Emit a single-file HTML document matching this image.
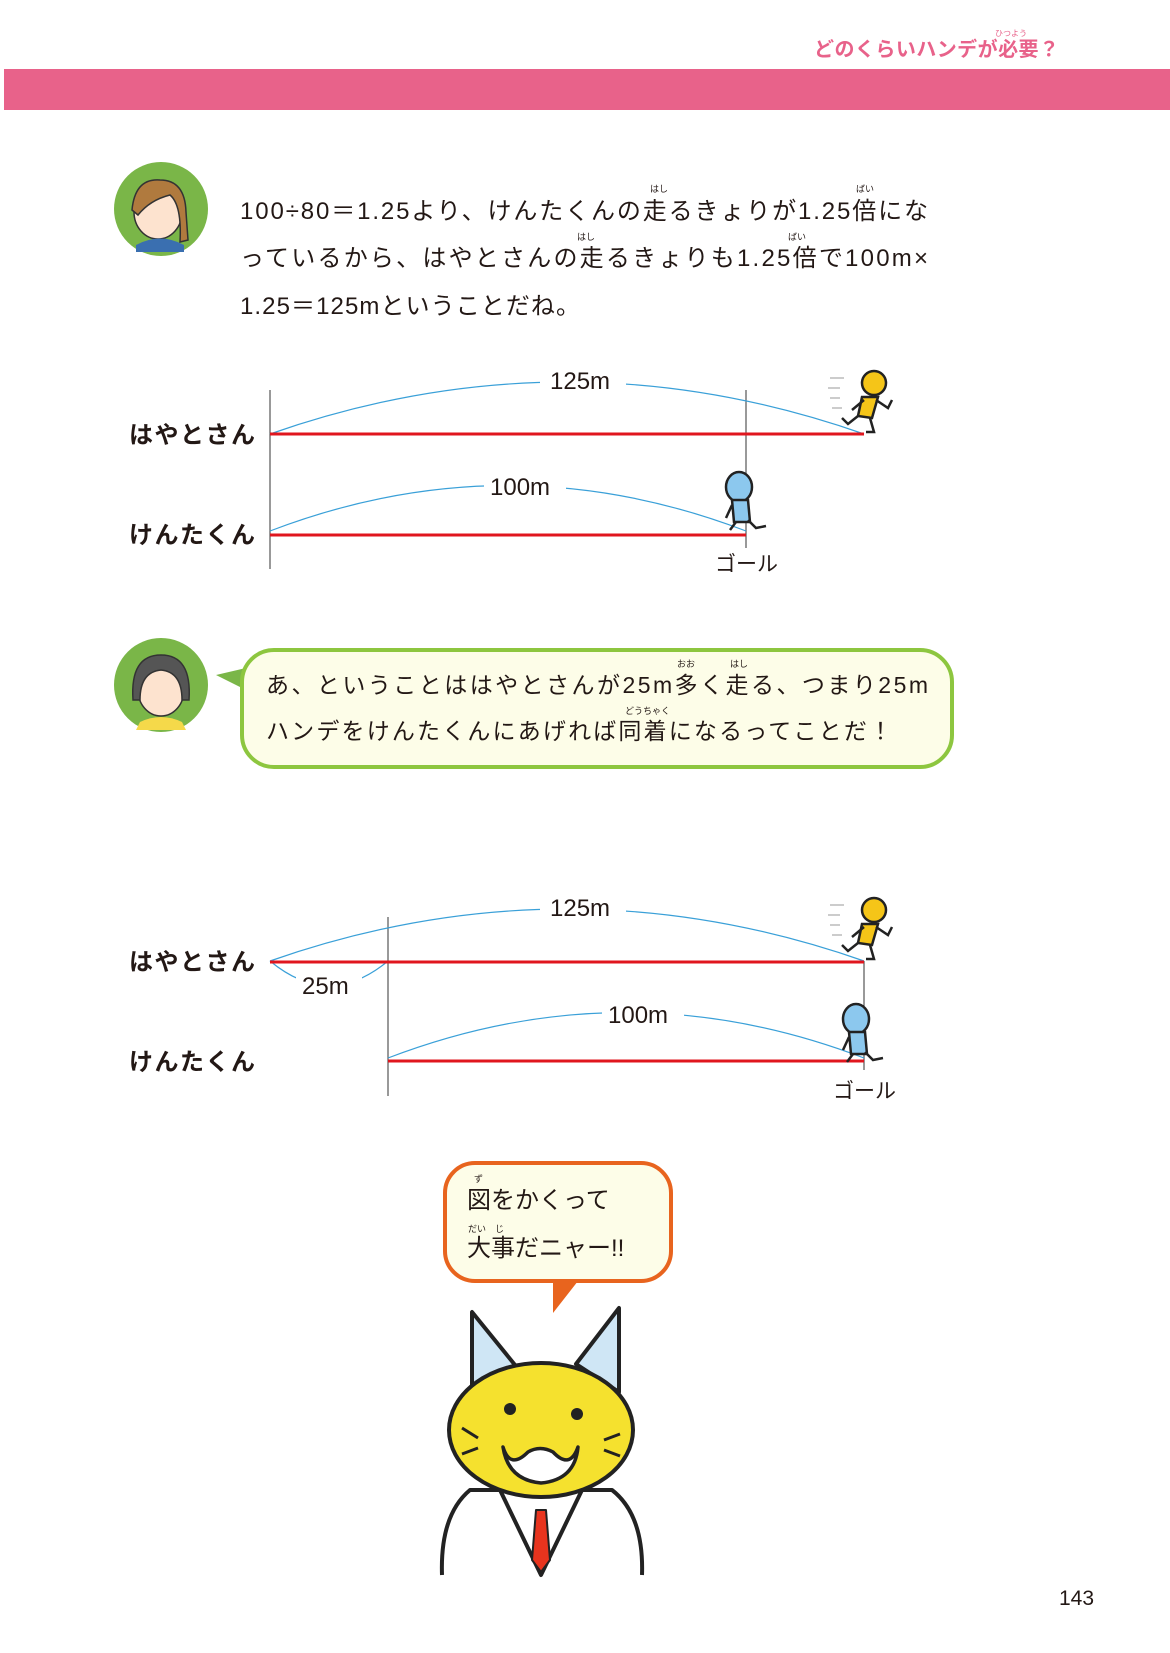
<!DOCTYPE html>
<html><head><meta charset="utf-8"><style>
html,body{margin:0;padding:0;background:#fff}
svg{display:block}
text{font-family:"Liberation Sans","Noto Sans CJK JP",sans-serif;fill:#231815}
</style></head><body>
<svg width="1170" height="1653" viewBox="0 0 1170 1653" xmlns="http://www.w3.org/2000/svg">
<!-- header -->
<text x="814" y="56" font-size="20" font-weight="bold" style="fill:#e8628a" textLength="245">どのくらいハンデが必要？</text>
<text x="995" y="36" font-size="8" style="fill:#e8628a">ひつよう</text>
<rect x="4" y="69" width="1166" height="41" fill="#e8628a"/>

<!-- girl 1 -->
<circle cx="161" cy="209" r="47" fill="#7ab648"/>
<ellipse cx="158" cy="212" rx="24" ry="27" fill="#fde3cf" stroke="#333" stroke-width="1.5"/>
<path d="M132 210 Q135 178 160 180 Q185 180 186 212 L188 240 L180 242 Q182 205 170 195 Q150 200 138 215Z" fill="#b07a3e" stroke="#333" stroke-width="1.5"/>
<path d="M136 245 Q160 232 184 245 L184 252 L136 252Z" fill="#3a6fb0"/>

<g font-size="24">
<text x="240" y="219" textLength="688">100÷80＝1.25より、けんたくんの走るきょりが1.25倍にな</text>
<text x="240" y="266" textLength="688">っているから、はやとさんの走るきょりも1.25倍で100m×</text>
<text x="240" y="314" textLength="340">1.25＝125mということだね。</text>
</g>
<g font-size="9"><text x="650" y="192">はし</text><text x="856" y="192">ばい</text><text x="577" y="240">はし</text><text x="788" y="240">ばい</text></g>

<!-- diagram 1 -->
<g fill="none">
<line x1="270" y1="390" x2="270" y2="569" stroke="#333" stroke-width="1"/>
<line x1="746" y1="390" x2="746" y2="548" stroke="#333" stroke-width="1"/>
<path d="M270 434 Q567 330 864 434" stroke="#3aa0d8" stroke-width="1.2"/>
<path d="M270 531 Q508 440 746 531" stroke="#3aa0d8" stroke-width="1.2"/>
<line x1="270" y1="434" x2="864" y2="434" stroke="#e0161e" stroke-width="3"/>
<line x1="270" y1="535" x2="746" y2="535" stroke="#e0161e" stroke-width="3"/>
</g>
<rect x="540" y="365" width="86" height="28" fill="#fff"/>
<rect x="484" y="472" width="82" height="28" fill="#fff"/>
<text x="550" y="389" font-size="24">125m</text>
<text x="490" y="495" font-size="24">100m</text>
<text x="129" y="443" font-size="24" font-weight="bold" textLength="126">はやとさん</text>
<text x="129" y="543" font-size="24" font-weight="bold" textLength="126">けんたくん</text>
<text x="715" y="571" font-size="21">ゴール</text>

<!-- runners 1 -->
<g stroke="#222" stroke-width="2.5" fill="none">
<circle cx="874" cy="383" r="12" fill="#f5c518"/>
<path d="M862 397 L878 397 L872 418 L858 416Z" fill="#f5c518"/>
<path d="M858 416 L848 424 L842 418 M870 418 L874 432 L866 432 M876 400 L888 408 L892 400 M864 400 L852 410"/>
<path d="M830 378 h14 M828 388 h12 M830 398 h10 M832 408 h10" stroke="#ccc" stroke-width="2"/>
</g>
<g stroke="#222" stroke-width="2.5" fill="none">
<ellipse cx="739" cy="487" rx="13" ry="15" fill="#8cc8ee"/>
<path d="M732 500 L748 500 L750 522 L734 522Z" fill="#8cc8ee"/>
<path d="M736 522 L730 530 M748 520 L756 528 L766 526 M732 505 L726 518"/>
</g>

<!-- girl 2 bubble -->
<circle cx="161" cy="685" r="47" fill="#7ab648"/>
<ellipse cx="161" cy="690" rx="23" ry="26" fill="#fde3cf" stroke="#333" stroke-width="1.5"/>
<path d="M133 700 Q130 655 161 655 Q192 655 189 700 L182 700 Q182 672 161 670 Q140 672 140 700Z" fill="#555" stroke="#333" stroke-width="1.5"/>
<path d="M140 722 Q161 712 182 722 L186 730 L136 730Z" fill="#f5d94a"/>
<path d="M216 675 L246 668 L246 690Z" fill="#7ab648"/>
<rect x="242" y="650" width="710" height="117" rx="32" fill="#fdfde8" stroke="#8dc63f" stroke-width="4"/>
<g font-size="23">
<text x="266" y="693" textLength="662">あ、ということははやとさんが25m多く走る、つまり25m</text>
<text x="266" y="739" textLength="626">ハンデをけんたくんにあげれば同着になるってことだ！</text>
</g>
<g font-size="9"><text x="677" y="667">おお</text><text x="730" y="667">はし</text><text x="625" y="714">どうちゃく</text></g>

<!-- diagram 2 -->
<g fill="none">
<line x1="388" y1="917" x2="388" y2="1096" stroke="#333" stroke-width="1"/>
<line x1="864" y1="961" x2="864" y2="1070" stroke="#333" stroke-width="1"/>
<path d="M270 961 Q567 857 864 961" stroke="#3aa0d8" stroke-width="1.2"/>
<path d="M270 961 Q329 1010 388 961" stroke="#3aa0d8" stroke-width="1.2"/>
<path d="M388 1058 Q626 967 864 1058" stroke="#3aa0d8" stroke-width="1.2"/>
<line x1="270" y1="962" x2="864" y2="962" stroke="#e0161e" stroke-width="3"/>
<line x1="388" y1="1061" x2="864" y2="1061" stroke="#e0161e" stroke-width="3"/>
</g>
<rect x="540" y="891" width="86" height="28" fill="#fff"/>
<rect x="296" y="968" width="66" height="30" fill="#fff"/>
<rect x="602" y="1000" width="82" height="28" fill="#fff"/>
<text x="550" y="916" font-size="24">125m</text>
<text x="302" y="994" font-size="24">25m</text>
<text x="608" y="1023" font-size="24">100m</text>
<text x="129" y="970" font-size="24" font-weight="bold" textLength="126">はやとさん</text>
<text x="129" y="1070" font-size="24" font-weight="bold" textLength="126">けんたくん</text>
<text x="833" y="1098" font-size="21">ゴール</text>
<g transform="translate(0,527)" stroke="#222" stroke-width="2.5" fill="none">
<circle cx="874" cy="383" r="12" fill="#f5c518"/>
<path d="M862 397 L878 397 L872 418 L858 416Z" fill="#f5c518"/>
<path d="M858 416 L848 424 L842 418 M870 418 L874 432 L866 432 M876 400 L888 408 L892 400 M864 400 L852 410"/>
<path d="M830 378 h14 M828 388 h12 M830 398 h10 M832 408 h10" stroke="#ccc" stroke-width="2"/>
</g>
<g transform="translate(117,532)" stroke="#222" stroke-width="2.5" fill="none">
<ellipse cx="739" cy="487" rx="13" ry="15" fill="#8cc8ee"/>
<path d="M732 500 L748 500 L750 522 L734 522Z" fill="#8cc8ee"/>
<path d="M736 522 L730 530 M748 520 L756 528 L766 526 M732 505 L726 518"/>
</g>

<!-- cat bubble -->
<path d="M553 1281 L553 1313 L578 1281Z" fill="#e8641e"/>
<rect x="445" y="1163" width="226" height="118" rx="30" fill="#fdfde8" stroke="#e8641e" stroke-width="4"/>
<text x="467" y="1208" font-size="24">図をかくって</text>
<text x="467" y="1256" font-size="24">大事だニャー!!</text>
<g font-size="9"><text x="474" y="1182">ず</text><text x="468" y="1232">だい　じ</text></g>

<!-- cat -->
<g stroke="#222" stroke-width="4" stroke-linejoin="round">
<path d="M472 1312 L472 1392 L515 1365Z" fill="#cfe6f5"/>
<path d="M619 1308 L619 1392 L576 1364Z" fill="#cfe6f5"/>
<path d="M442 1575 Q440 1515 470 1490 L612 1490 Q644 1515 642 1575" fill="#fff"/>
<path d="M500 1490 L541 1575 L582 1490" fill="none"/>
<ellipse cx="541" cy="1430" rx="92" ry="67" fill="#f5e12e"/>
<path d="M536 1510 L546 1510 L550 1560 L541 1572 L532 1560Z" fill="#e8341e" stroke-width="2"/>
<path d="M503 1447 Q510 1470 528 1452 Q540 1445 553 1452 Q570 1470 578 1447 Q575 1480 541 1483 Q508 1480 503 1447Z" fill="#fff" stroke-width="3.5"/>
</g>
<circle cx="510" cy="1409" r="6" fill="#222"/><circle cx="577" cy="1414" r="6" fill="#222"/>
<g stroke="#222" stroke-width="3"><line x1="462" y1="1428" x2="478" y2="1438"/><line x1="462" y1="1454" x2="478" y2="1448"/><line x1="620" y1="1434" x2="604" y2="1440"/><line x1="620" y1="1456" x2="604" y2="1450"/></g>

<text x="1059" y="1605" font-size="21">143</text>
</svg>
</body></html>
